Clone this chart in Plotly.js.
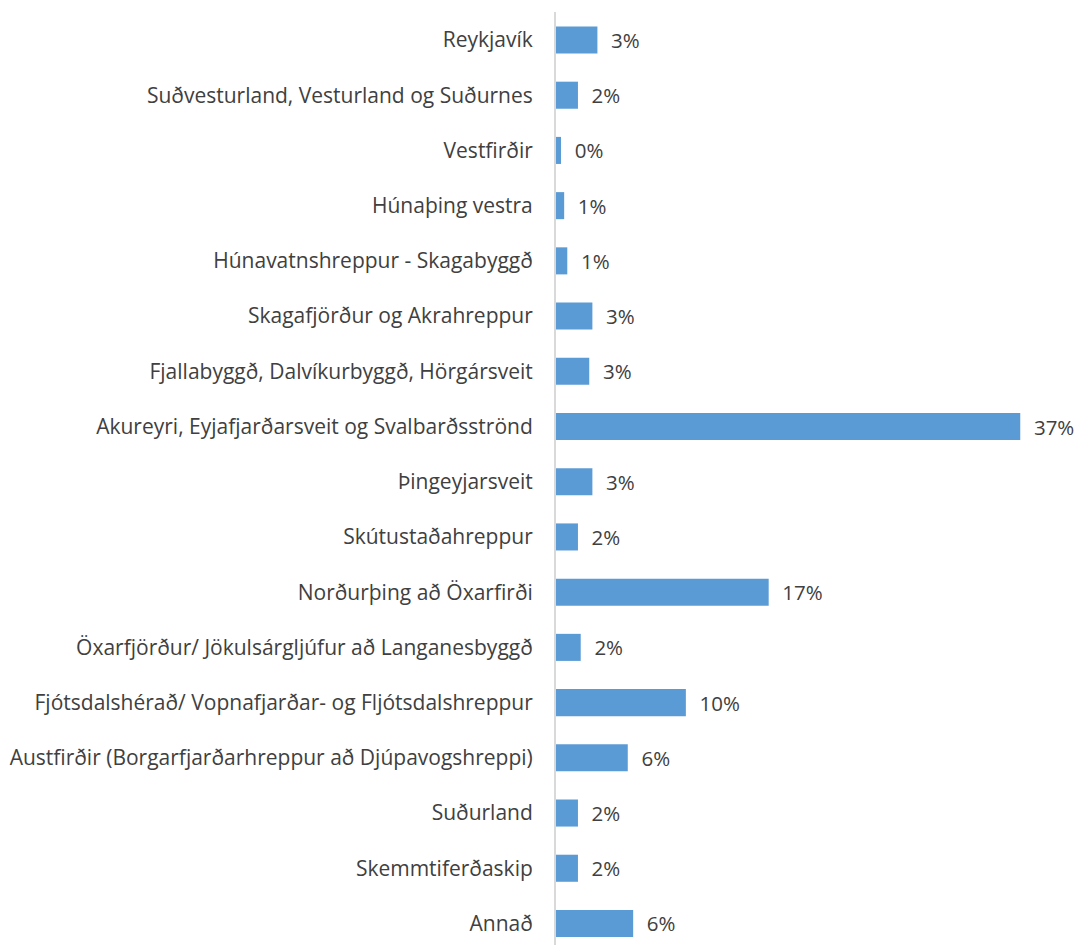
<!DOCTYPE html>
<html><head><meta charset="utf-8">
<script src="https://cdn.plot.ly/plotly-3.0.1.min.js"></script>
<style>html,body{margin:0;padding:0;background:#fff;}#chart{width:1083px;height:945px;}</style>
</head><body><div id="chart"></div>
<script>
const categories = [
  "Reykjavík",
  "Suðvesturland, Vesturland og Suðurnes",
  "Vestfirðir",
  "Húnaþing vestra",
  "Húnavatnshreppur - Skagabyggð",
  "Skagafjörður og Akrahreppur",
  "Fjallabyggð, Dalvíkurbyggð, Hörgársveit",
  "Akureyri, Eyjafjarðarsveit og Svalbarðsströnd",
  "Þingeyjarsveit",
  "Skútustaðahreppur",
  "Norðurþing að Öxarfirði",
  "Öxarfjörður/ Jökulsárgljúfur að Langanesbyggð",
  "Fjótsdalshérað/ Vopnafjarðar- og Fljótsdalshreppur",
  "Austfirðir (Borgarfjarðarhreppur að Djúpavogshreppi)",
  "Suðurland",
  "Skemmtiferðaskip",
  "Annað"
];
const values = [3.3, 1.75, 0.4, 0.65, 0.9, 2.9, 2.65, 37.0, 2.9, 1.75, 16.95, 1.97, 10.35, 5.72, 1.75, 1.75, 6.15];
const labels = ["3%", "2%", "0%", "1%", "1%", "3%", "3%", "37%", "3%", "2%", "17%", "2%", "10%", "6%", "2%", "2%", "6%"];

const font = "'Open Sans', sans-serif";
const trace = {
  type: "bar",
  orientation: "h",
  y: categories,
  x: values,
  text: labels,
  texttemplate: "\u00a0\u00a0%{text}",
  textposition: "outside",
  constraintext: "none",
  cliponaxis: false,
  textfont: {family: font, size: 20.5, color: "#404040"},
  marker: {color: "#5b9bd5", line: {width: 0}},
  hoverinfo: "none"
};
const layout = {
  width: 1083, height: 945,
  margin: {l: 556, r: 0, t: 12, b: 0, pad: 0},
  paper_bgcolor: "#fff", plot_bgcolor: "#fff",
  showlegend: false,
  bargap: 0.51,
  font: {family: font, size: 21, color: "#404040"},
  xaxis: {range: [0, 42], showgrid: false, zeroline: false, showticklabels: false, ticks: "", showline: false, fixedrange: true},
  yaxis: {
    type: "category", categoryorder: "array", categoryarray: categories,
    range: [16.39, -0.507],
    showgrid: false, zeroline: false, showline: true, linecolor: "#d9d9d9", linewidth: 2,
    ticks: "", ticklabelstandoff: 17,
    tickfont: {family: font, size: 21, color: "#404040"}, fixedrange: true
  }
};
Plotly.newPlot("chart", [trace], layout, {displayModeBar: false, staticPlot: true});
</script></body></html>
